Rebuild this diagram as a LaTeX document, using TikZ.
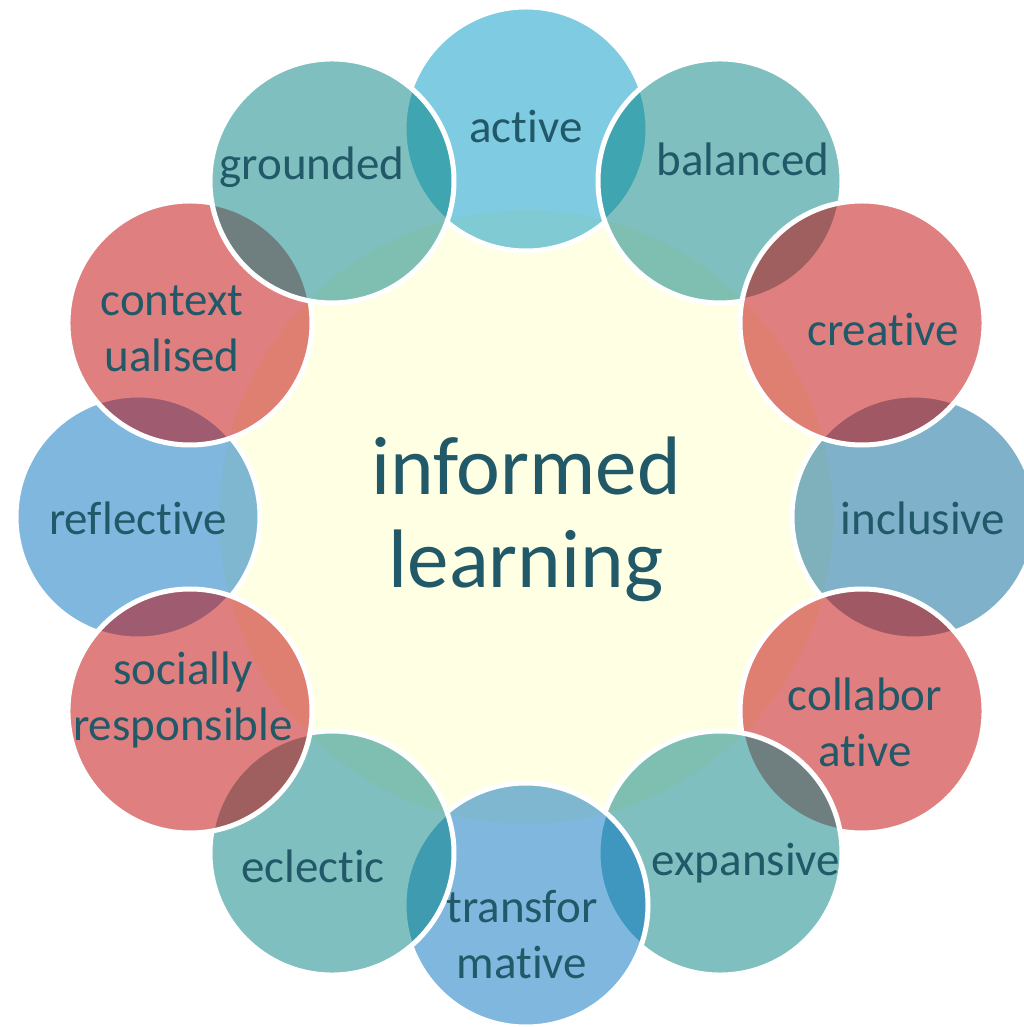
\documentclass[tikz,border=0pt]{standalone}
\usepackage{fontspec}
\setmainfont{Carlito}[Ligatures=CommonOff]
\usetikzlibrary{positioning}
\definecolor{ringTeal}{HTML}{008080}
\definecolor{ringRed}{HTML}{C00000}
\definecolor{ringSky}{HTML}{0097C4}
\definecolor{ringSteel}{HTML}{006595}
\definecolor{ringBlue}{HTML}{0070C0}
\definecolor{hubYellow}{HTML}{FFFFE4}
\definecolor{inkTeal}{HTML}{215968}

\begin{document}
\begin{tikzpicture}[
    x=1pt, y=1pt,
    hub/.style={circle, minimum size=614pt, inner sep=0pt, fill=hubYellow},
    title/.style={font=\fontsize{83}{93}\selectfont, text=inkTeal,
                  align=center, anchor=base, inner sep=0pt},
    bubble/.style={circle, minimum size=244pt, inner sep=0pt,
                   draw=white, line width=5pt, fill opacity=0.5},
    word/.style={font=\fontsize{47}{56}\selectfont, text=inkTeal,
                 align=center, anchor=base, inner sep=0pt},
]
\useasboundingbox (-526,-510) rectangle (498,517);

% ── Hub ──
\node[hub] (hub) at (0,0) {};
\node[title] (hubL) at ([shift={(0,-71)}]hub.center) {informed\\learning};

% ── Ring of bubbles (back to front) ──
\node[bubble, fill=ringSky]   (active)   at ([shift={(90:388)}]hub.center) {};
\node[bubble, fill=ringTeal]  (balanced) at ([shift={(60:388)}]hub.center) {};
\node[bubble, fill=ringSteel] (inclusive) at ([shift={(0:388)}]hub.center) {};
\node[bubble, fill=ringRed]   (creative) at ([shift={(30:388)}]hub.center) {};
\node[bubble, fill=ringRed]   (collab)   at ([shift={(-30:388)}]hub.center) {};
\node[bubble, fill=ringTeal]  (expans)   at ([shift={(-60:388)}]hub.center) {};
\node[bubble, fill=ringBlue]  (transf)   at ([shift={(-90:388)}]hub.center) {};
\node[bubble, fill=ringTeal]  (eclectic) at ([shift={(-120:388)}]hub.center) {};
\node[bubble, fill=ringBlue]  (reflect)  at ([shift={(180:388)}]hub.center) {};
\node[bubble, fill=ringRed]   (social)   at ([shift={(-150:388)}]hub.center) {};
\node[bubble, fill=ringRed]   (context)  at ([shift={(150:388)}]hub.center) {};
\node[bubble, fill=ringTeal]  (grounded) at ([shift={(120:388)}]hub.center) {};

% ── Labels (base = last line) ──
\node[word] (activeL)   at ([shift={(0,-14)}]active.center)    {active};
\node[word] (balancedL) at ([shift={(23,5)}]balanced.center)   {balanced};
\node[word] (creativeL) at ([shift={(21,-23)}]creative.center) {creative};
\node[word] (inclusiveL) at ([shift={(9,-18)}]inclusive.center) {inclusive};
\node[word] (collabL)   at ([shift={(3,-55)}]collab.center)    {collabor\\ative};
\node[word] (expansL)   at ([shift={(26,-22)}]expans.center)   {expansive};
\node[word] (transfL)   at ([shift={(-4,-73)}]transf.center)   {transfor\\mative};
\node[word] (eclecticL) at ([shift={(-19,-29)}]eclectic.center) {eclectic};
\node[word] (reflectL)  at ([shift={(0,-18)}]reflect.center)   {reflective};
\node[word] (socialL)   at ([shift={(-7,-29)}]social.center)   {socially\\responsible};
\node[word] (contextL)  at ([shift={(-18,-49)}]context.center) {context\\ualised};
\node[word] (groundedL) at ([shift={(-20,1)}]grounded.center)  {grounded};
\end{tikzpicture}
\end{document}
